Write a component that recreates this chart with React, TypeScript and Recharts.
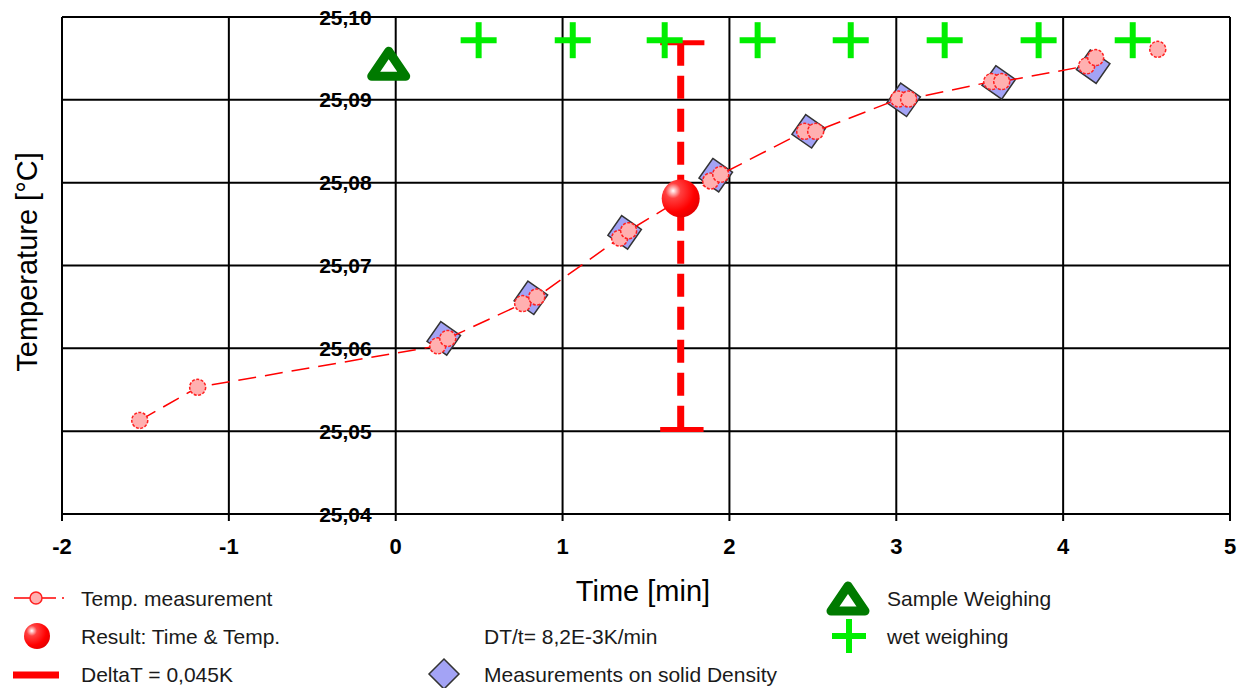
import React from 'react';
import { ScatterChart, Scatter, XAxis, YAxis, CartesianGrid } from 'recharts';

const X_TICKS = [-2, -1, 0, 1, 2, 3, 4, 5];
const Y_TICKS = [25.04, 25.05, 25.06, 25.07, 25.08, 25.09, 25.1];

// temperature readings (time in min, temp in °C)
const tempMeasurement = [
  { x: -1.534, y: 25.0513 }, { x: -1.187, y: 25.0553 },
  { x: 0.252, y: 25.0603 }, { x: 0.312, y: 25.0612 },
  { x: 0.761, y: 25.0654 }, { x: 0.845, y: 25.0662 },
  { x: 1.342, y: 25.0733 }, { x: 1.396, y: 25.0742 },
  { x: 1.888, y: 25.0802 }, { x: 1.948, y: 25.081 },
  { x: 2.451, y: 25.0862 }, { x: 2.517, y: 25.0862 },
  { x: 3.014, y: 25.0901 }, { x: 3.074, y: 25.0901 },
  { x: 3.572, y: 25.0922 }, { x: 3.632, y: 25.0922 },
  { x: 4.141, y: 25.0941 }, { x: 4.195, y: 25.0951 },
];
const lateTemp = [{ x: 4.567, y: 25.0961 }];

const solidDensity = [
  { x: 0.288, y: 25.0612 }, { x: 0.81, y: 25.0661 }, { x: 1.372, y: 25.074 },
  { x: 1.918, y: 25.0809 }, { x: 2.475, y: 25.0862 }, { x: 3.044, y: 25.09 },
  { x: 3.614, y: 25.0921 }, { x: 4.18, y: 25.094 },
];

const result = [{ x: 1.708, y: 25.0781 }];
const deltaStem = [{ x: 1.708, y: 25.0969 }, { x: 1.708, y: 25.0502 }];
const deltaTopCap = [{ x: 1.585, y: 25.0969 }, { x: 1.85, y: 25.0969 }];
const deltaBottomCap = [{ x: 1.585, y: 25.0502 }, { x: 1.845, y: 25.0502 }];

const sampleWeighing = [{ x: -0.042, y: 25.0943 }];
const wetWeighing = [
  { x: 0.497, y: 25.0972 }, { x: 1.061, y: 25.0972 }, { x: 1.612, y: 25.0972 },
  { x: 2.169, y: 25.0972 }, { x: 2.727, y: 25.0972 }, { x: 3.29, y: 25.0972 },
  { x: 3.853, y: 25.0972 }, { x: 4.417, y: 25.0972 },
];

const W = 1239;
const H = 688;
const M = { top: 17, right: 9, bottom: 134, left: 62 };
const PLOT_W = W - M.left - M.right;
const PLOT_H = H - M.top - M.bottom - 40;
const X_MIN = X_TICKS[0];
const X_MAX = X_TICKS[X_TICKS.length - 1];
const Y_MIN = Y_TICKS[0];
const Y_MAX = Y_TICKS[Y_TICKS.length - 1];
const ZERO_X = M.left + ((0 - X_MIN) / (X_MAX - X_MIN)) * PLOT_W;
const FONT = '"Liberation Sans", Arial, sans-serif';

const fmt = (v: number) => v.toFixed(2).replace('.', ',');

const PinkDot = (p: any) => (
  <circle cx={p.cx} cy={p.cy} r={8} fill="#ffb0b0" stroke="#ff2020" strokeWidth={1.5} strokeDasharray="3 1.5" />
);

const Diamond = ({ cx, cy, s = 17 }: any) => (
  <polygon
    points={`${cx},${cy - s} ${cx + s},${cy} ${cx},${cy + s} ${cx - s},${cy}`}
    fill="#a3a3f5" stroke="#333" strokeWidth={1.5}
    transform={`rotate(-10 ${cx} ${cy})`}
  />
);

const Sphere = ({ cx, cy, r = 19, id = 'sph' }: any) => (
  <g>
    <defs>
      <radialGradient id={id} cx="0.3" cy="0.3" r="0.8">
        <stop offset="0" stopColor="#ffffff" />
        <stop offset="0.25" stopColor="#ff4040" />
        <stop offset="0.7" stopColor="#ff0000" />
        <stop offset="1" stopColor="#e00000" />
      </radialGradient>
    </defs>
    <circle cx={cx} cy={cy} r={r} fill={`url(#${id})`} />
  </g>
);

const Cross = ({ cx, cy, s = 18 }: any) => (
  <g stroke="#00ee00" strokeWidth={6}>
    <line x1={cx - s} y1={cy} x2={cx + s} y2={cy} />
    <line x1={cx} y1={cy - s} x2={cx} y2={cy + s} />
  </g>
);

const Triangle = ({ cx, cy }: any) => (
  <polygon
    points={`${cx},${cy - 13} ${cx + 17},${cy + 12} ${cx - 17},${cy + 12}`}
    fill="#fff" stroke="#007a00" strokeWidth={9} strokeLinejoin="round"
  />
);

const Nothing = () => <g />;

export default function App() {
  const text = (x: number, cy: number, s: string) => (
    <text x={x} y={cy + 7.5} fontSize={21} fontFamily={FONT} fill="#1a1a1a">{s}</text>
  );
  // y tick labels sit left of the x = 0 grid line
  const yPos = (v: number) => M.top + ((Y_MAX - v) / (Y_MAX - Y_MIN)) * PLOT_H;
  return (
    <div style={{ position: 'absolute', left: 0, top: 0, width: W, height: H, background: '#fff' }}>
      <ScatterChart width={W} height={H} margin={M}>
        <CartesianGrid stroke="#000" strokeWidth={2} horizontalValues={Y_TICKS} verticalValues={X_TICKS} />
        <XAxis type="number" dataKey="x" domain={[X_MIN, X_MAX]} ticks={X_TICKS} allowDataOverflow
          height={40} stroke="#000" strokeWidth={2} tickSize={7} tickMargin={17}
          tick={{ fontSize: 22, fontWeight: 'bold', fill: '#000', fontFamily: FONT }} />
        <YAxis type="number" dataKey="y" domain={[Y_MIN, Y_MAX]} ticks={Y_TICKS} allowDataOverflow
          width={0} axisLine={false} tickLine={false} tick={<Nothing />} />
        <Scatter data={deltaStem} isAnimationActive={false} shape={<Nothing />}
          line={{ stroke: '#ff0000', strokeWidth: 7, strokeDasharray: '23 10' }} />
        <Scatter data={deltaTopCap} isAnimationActive={false} shape={<Nothing />}
          line={{ stroke: '#ff0000', strokeWidth: 5 }} />
        <Scatter data={deltaBottomCap} isAnimationActive={false} shape={<Nothing />}
          line={{ stroke: '#ff0000', strokeWidth: 5 }} />
        <Scatter data={wetWeighing} isAnimationActive={false} shape={(p: any) => <Cross cx={p.cx} cy={p.cy} />} />
        <Scatter data={sampleWeighing} isAnimationActive={false} shape={(p: any) => <Triangle cx={p.cx} cy={p.cy} />} />
        <Scatter data={solidDensity} isAnimationActive={false} shape={(p: any) => <Diamond cx={p.cx} cy={p.cy} />} />
        <Scatter data={tempMeasurement} isAnimationActive={false} shape={PinkDot}
          line={{ stroke: '#ff0000', strokeWidth: 1.5, strokeDasharray: '18 9' }} />
        <Scatter data={lateTemp} isAnimationActive={false} shape={PinkDot} />
        <Scatter data={result} isAnimationActive={false} shape={(p: any) => <Sphere cx={p.cx} cy={p.cy} />} />
      </ScatterChart>

      <svg width={W} height={H} style={{ position: 'absolute', left: 0, top: 0, pointerEvents: 'none' }}>
        {Y_TICKS.map((v) => (
          <text key={v} x={ZERO_X - 24} y={yPos(v) + 7.5} textAnchor="end" fontSize={21}
            fontWeight="bold" fontFamily={FONT} fill="#000">{fmt(v)}</text>
        ))}
        <text x={643} y={601} textAnchor="middle" fontSize={29} fontFamily={FONT} fill="#000">Time [min]</text>
        <text transform="translate(37,262) rotate(-90)" textAnchor="middle" fontSize={29} fontFamily={FONT} fill="#000">
          Temperature [°C]
        </text>

        {/* legend, left column */}
        <line x1={14} y1={598} x2={56} y2={598} stroke="#ff0000" strokeWidth={1.5} />
        <circle cx={36} cy={598} r={6} fill="#ffb0b0" stroke="#ff2020" strokeWidth={1.5} />
        <circle cx={63} cy={598} r={1} fill="#ff0000" />
        {text(81, 598, 'Temp. measurement')}
        <Sphere cx={37} cy={636} r={13} id="sphLegend" />
        {text(81, 636, 'Result: Time & Temp.')}
        <line x1={13} y1={675} x2={59} y2={675} stroke="#ff0000" strokeWidth={7} />
        {text(81, 674, 'DeltaT = 0,045K')}

        {/* middle column */}
        {text(484, 636, 'DT/t= 8,2E-3K/min')}
        <polygon points="444,659 459,674 444,689 429,674" fill="#a3a3f5" stroke="#333" strokeWidth={1.5} />
        {text(484, 674, 'Measurements on solid Density')}

        {/* right column */}
        <Triangle cx={848} cy={599} />
        {text(887, 598, 'Sample Weighing')}
        <Cross cx={849} cy={636} s={17} />
        {text(887, 636, 'wet weighing')}
      </svg>
    </div>
  );
}
